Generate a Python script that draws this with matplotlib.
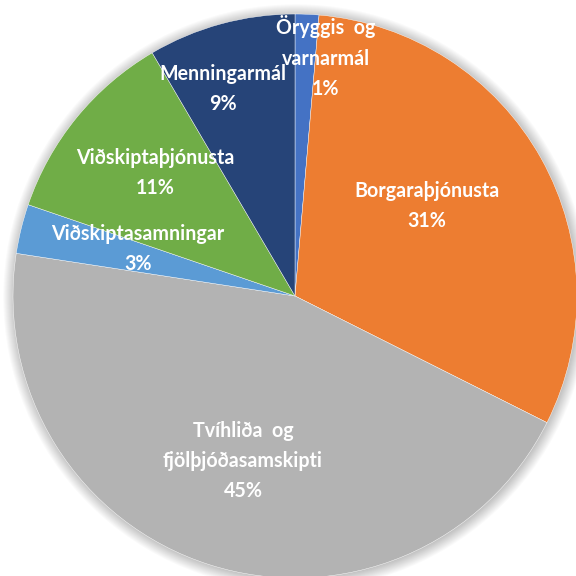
import matplotlib
matplotlib.use("Agg")
import matplotlib.pyplot as plt
from matplotlib.patches import Circle
import numpy as np

categories = ["Öryggis  og\nvarnarmál", "Borgaraþjónusta", "Tvíhliða  og\nfjölþjóðasamskipti",
              "Viðskiptasamningar", "Viðskiptaþjónusta", "Menningarmál"]
values = [1.36, 31.05, 45.0, 2.83, 11.3, 8.45]
pct_labels = ["1%", "31%", "45%", "3%", "11%", "9%"]
colors = ["#4472C4", "#ED7D31", "#B3B3B3", "#5B9BD5", "#70AD47", "#264478"]

# label centres in pixel coordinates of a 576x576 image
label_px = [(326, 57), (427, 206), (243, 461), (138, 249), (155, 173), (223, 89)]

W = 576
cx, cy, R = 295, 296, 282

fig = plt.figure(figsize=(5.76, 5.76), dpi=100)
ax = fig.add_axes([0, 0, 1, 1])

ax.pie(values, colors=colors, startangle=90, counterclock=False, radius=1.0,
       wedgeprops=dict(edgecolor="white", linewidth=0.3))

# soft shadow
for i in range(12):
    ax.add_patch(Circle((0.004, -0.004), 1.0 + 0.0035 * i, color="black",
                        alpha=0.018, lw=0, zorder=0))

ax.set_xlim(-cx / R, (W - cx) / R)
ax.set_ylim(-(W - cy) / R, cy / R)
ax.set_aspect("equal")
ax.axis("off")

# fit font size so that the longest lines match the reference widths (px)
fam = ["Lato", "DejaVu Sans"]
ref_words = ["Viðskiptaþjónusta", "fjölþjóðasamskipti", "Borgaraþjónusta", "Viðskiptasamningar"]
ref_widths = [159, 161, 144, 170]
renderer = fig.canvas.get_renderer()
ratios = []
for w, tw in zip(ref_words, ref_widths):
    t = fig.text(0, 0, w, fontsize=13.5, fontweight="bold", family=fam)
    ratios.append(tw / t.get_window_extent(renderer).width)
    t.remove()
fs = 13.5 * float(np.mean(ratios))
ls = 1.71 * 13.5 / fs

for cat, pct, (px, py) in zip(categories, pct_labels, label_px):
    x = (px - cx) / R
    y = (cy - py) / R
    ax.text(x, y, cat + "\n" + pct, ha="center", va="center", color="white",
            fontsize=fs, fontweight="bold", family=fam,
            linespacing=ls, zorder=5)

fig.savefig("out.png", dpi=100, facecolor="white")
